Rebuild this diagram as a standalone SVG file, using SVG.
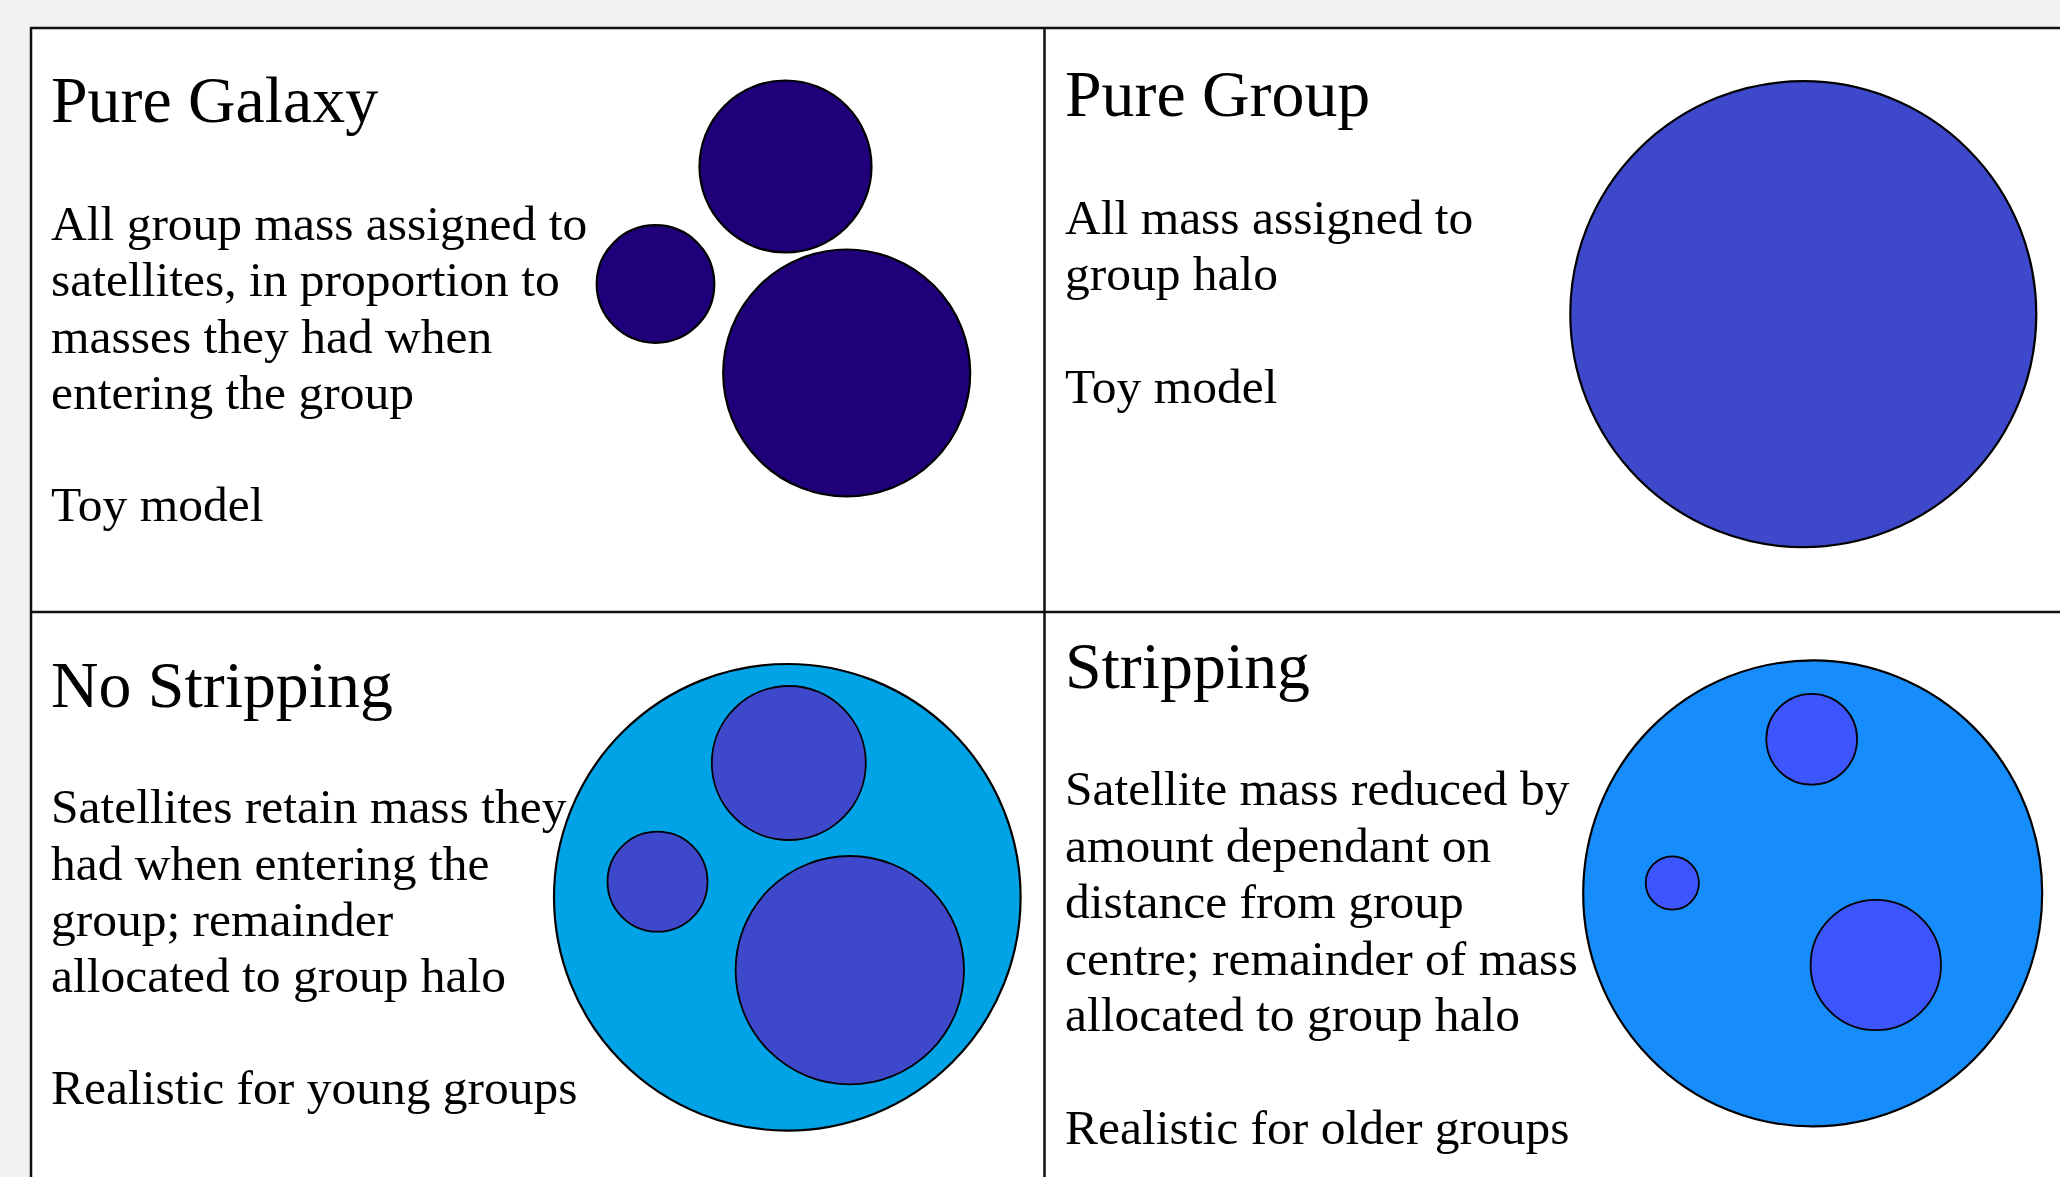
<svg xmlns="http://www.w3.org/2000/svg" width="2060" height="1177" viewBox="0 0 2060 1177">
<style>
.title{font-family:"Liberation Serif","Times New Roman",serif;font-size:65.8px;fill:#000}
.body{font-family:"Liberation Serif","Times New Roman",serif;font-size:49.5px;fill:#000}
.frame{fill:none;stroke:#111;stroke-width:2.5}
.c{stroke:#000;stroke-width:2.2}
.ci{stroke:#000;stroke-width:1.8}
.gal{fill:#1f007a}
.grp{fill:#3e48ca}
.halo1{fill:#00a3e6}
.halo2{fill:#178cfb}
.sat2{fill:#3d55fd}
</style>
<rect x="0" y="0" width="2060" height="1177" fill="#f2f2f2"/>
<rect x="31" y="28" width="2040" height="1160" fill="#fff"/>
<g id="grid">
<path class="frame" d="M31,1190 V28 H2070 M1044.5,28 V1190 M31,612 H2070"/>
</g>
<g id="pure-galaxy">
<text class="title" x="51" y="122">Pure Galaxy</text>
<text class="body" x="51" y="240">All group mass assigned to</text>
<text class="body" x="51" y="296">satellites, in proportion to</text>
<text class="body" x="51" y="352.5">masses they had when</text>
<text class="body" x="51" y="409">entering the group</text>
<text class="body" x="51" y="521">Toy model</text>
<circle class="gal c" cx="785.5" cy="166.5" r="86"/>
<circle class="gal c" cx="655.5" cy="284" r="58.8"/>
<circle class="gal c" cx="846.7" cy="373" r="123.5"/>
</g>
<g id="pure-group">
<text class="title" x="1065" y="116">Pure Group</text>
<text class="body" x="1065" y="234">All mass assigned to</text>
<text class="body" x="1065" y="290">group halo</text>
<text class="body" x="1065" y="403">Toy model</text>
<circle class="grp c" cx="1803.3" cy="314.2" r="233"/>
</g>
<g id="no-stripping">
<text class="title" x="51" y="707">No Stripping</text>
<text class="body" x="51" y="823">Satellites retain mass they</text>
<text class="body" x="51" y="879.5">had when entering the</text>
<text class="body" x="51" y="935.5">group; remainder</text>
<text class="body" x="51" y="992">allocated to group halo</text>
<text class="body" x="51" y="1104">Realistic for young groups</text>
<circle class="halo1 c" cx="787.3" cy="897.3" r="233.3"/>
<circle class="grp ci" cx="788.8" cy="763" r="77"/>
<circle class="grp ci" cx="657.5" cy="881.7" r="50"/>
<circle class="grp ci" cx="849.8" cy="970.2" r="114.2"/>
</g>
<g id="stripping">
<text class="title" x="1065" y="688">Stripping</text>
<text class="body" x="1065" y="805">Satellite mass reduced by</text>
<text class="body" x="1065" y="861.5">amount dependant on</text>
<text class="body" x="1065" y="918">distance from group</text>
<text class="body" x="1065" y="974.5">centre; remainder of mass</text>
<text class="body" x="1065" y="1031">allocated to group halo</text>
<text class="body" x="1065" y="1144">Realistic for older groups</text>
<ellipse class="halo2 c" cx="1812.7" cy="893.4" rx="229.5" ry="233"/>
<circle class="sat2 ci" cx="1811.7" cy="739.2" r="45.4"/>
<circle class="sat2 ci" cx="1672.3" cy="883" r="26.6"/>
<circle class="sat2 ci" cx="1875.8" cy="965" r="65.2"/>
</g>
<g id="connectors"/>
</svg>
